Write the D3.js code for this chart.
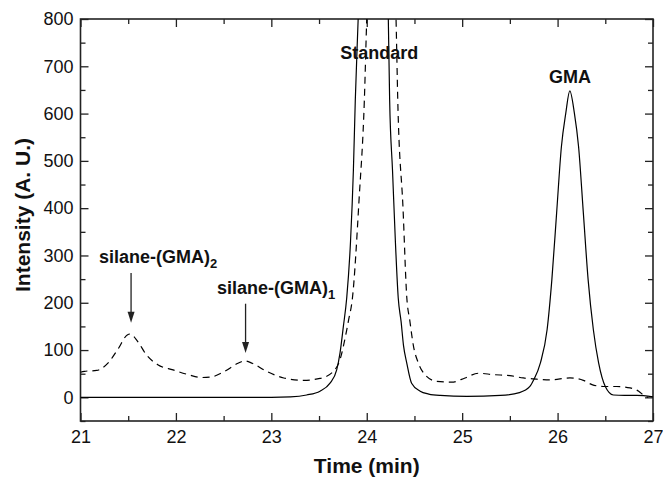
<!DOCTYPE html>
<html>
<head>
<meta charset="utf-8">
<script src="https://cdn.jsdelivr.net/npm/d3@7"></script>
<style>
  body { margin: 0; background: #fff; }
  svg { display: block; font-family: Arial, "Liberation Sans", sans-serif; }
</style>
</head>
<body>
<div id="chart"></div>
<script>
'use strict';

// Solid trace (sample with GMA).
const solidTime = [21.0, 21.5, 22.0, 22.5, 23.0, 23.2, 23.37, 23.51, 23.615, 23.685, 23.72, 23.755, 23.79, 23.83,
  23.86, 23.88, 23.91, 23.95, 24.07, 24.2, 24.226, 24.24, 24.27, 24.3, 24.33, 24.36, 24.385, 24.42, 24.47, 24.56,
  24.65, 24.77, 25.05, 25.4, 25.6, 25.71, 25.75, 25.82, 25.89, 25.94, 25.99, 26.04, 26.086, 26.128, 26.176, 26.22,
  26.27, 26.32, 26.375, 26.43, 26.5, 26.585, 26.7, 26.83, 27.0];
const solidValue = [0, 0, 0, 0, 0, 1, 5, 13, 30, 58, 94, 150, 210, 330,
  480, 629, 800, 1050, 1300, 1050, 800, 629, 480, 330, 210, 160, 110, 72, 30, 13,
  7, 4, 2, 4, 10, 23, 37, 73, 143, 249, 390, 530, 601, 648, 601, 530,
  390, 249, 143, 73, 23, 5, 4, 4, 1];

// Dashed trace.
const dashTime = [21.0, 21.04, 21.17, 21.29, 21.39, 21.49, 21.52, 21.6, 21.69, 21.81, 21.97, 22.13, 22.27, 22.37,
  22.51, 22.65, 22.72, 22.8, 22.95, 23.13, 23.34, 23.51, 23.65, 23.72, 23.77, 23.81, 23.85, 23.92, 23.975, 24.0,
  24.05, 24.15, 24.27, 24.307, 24.325, 24.38, 24.42, 24.45, 24.49, 24.54, 24.61, 24.73, 24.89, 25.03, 25.17, 25.33,
  25.5, 25.64, 25.75, 25.92, 26.13, 26.27, 26.36, 26.48, 26.62, 26.76, 26.85, 26.92, 26.95];
const dashValue = [53, 55, 57, 73, 101, 132, 134, 118, 90, 69, 58, 48, 42, 43,
  55, 72, 77, 72, 55, 41, 36, 40, 55, 80, 122, 164, 210, 420, 629, 800,
  1000, 1300, 1000, 800, 629, 400, 210, 164, 108, 73, 48, 34, 32, 41, 51, 48,
  46, 41, 39, 37, 41, 36, 27, 23, 23, 20, 13, 2, 0];

const xMajor = [21, 22, 23, 24, 25, 26, 27];
const xMinor = [21.5, 22.5, 23.5, 24.5, 25.5, 26.5];
const yMajor = [0, 100, 200, 300, 400, 500, 600, 700, 800];
const yMinor = [-50, 50, 150, 250, 350, 450, 550, 650, 750];

// Peak labels: text, subscript, time, intensity, anchor.
const labelText = ['silane-(GMA)', 'silane-(GMA)', 'Standard', 'GMA'];
const labelSub = ['2', '1', '', ''];
const labelTime = [21.195, 22.43, 24.13, 26.13];
const labelValue = [285, 219, 715, 665];
const labelAnchor = ['start', 'start', 'middle', 'middle'];

// Arrows: time, tail intensity, tip intensity.
const arrowTime = [21.53, 22.73];
const arrowFrom = [263, 198];
const arrowTo = [158, 94];

const width = 663;
const height = 478;
const margin = {top: 19, right: 10, bottom: 57, left: 80.5};
const w = width - margin.left - margin.right;
const h = height - margin.top - margin.bottom;

const x = d3.scaleLinear().domain([21, 27]).range([0, w]);
const y = d3.scaleLinear().domain([-50, 800]).range([h, 0]);

const $svg = d3.select('#chart').append('svg')
  .attr('width', width)
  .attr('height', height);

const $g = $svg.append('g')
  .attr('transform', `translate(${margin.left},${margin.top})`);

$svg.append('defs').append('clipPath')
  .attr('id', 'plot-clip')
  .append('rect')
  .attr('width', w)
  .attr('height', h);

const axisColor = '#222';

// Axes, ticks pointing inward on all four sides.
const addAxis = (axis, transform, labels) => {
  const $a = $g.append('g').attr('transform', transform).call(axis);
  $a.select('.domain').remove();
  $a.selectAll('line').attr('stroke', axisColor).attr('stroke-width', 1.3);
  if(labels) {
    $a.selectAll('text').attr('fill', '#111').style('font-size', '18px');
  } else {
    $a.selectAll('text').remove();
  }
  return $a;
};

addAxis(d3.axisBottom(x).tickValues(xMajor).tickSize(-8).tickPadding(9).tickFormat(d3.format('d')), `translate(0,${h})`, true);
addAxis(d3.axisBottom(x).tickValues(xMinor).tickSize(-5), `translate(0,${h})`, false);
addAxis(d3.axisTop(x).tickValues(xMajor).tickSize(-8), 'translate(0,0)', false);
addAxis(d3.axisTop(x).tickValues(xMinor).tickSize(-5), 'translate(0,0)', false);

addAxis(d3.axisLeft(y).tickValues(yMajor).tickSize(-8).tickPadding(7).tickFormat(d3.format('d')), 'translate(0,0)', true);
addAxis(d3.axisLeft(y).tickValues(yMinor).tickSize(-5), 'translate(0,0)', false);
addAxis(d3.axisRight(y).tickValues(yMajor).tickSize(-8), `translate(${w},0)`, false);
addAxis(d3.axisRight(y).tickValues(yMinor).tickSize(-5), `translate(${w},0)`, false);

// Frame.
$g.append('rect')
  .attr('width', w)
  .attr('height', h)
  .attr('fill', 'none')
  .attr('stroke', axisColor)
  .attr('stroke-width', 1.6);

// Traces.
const line = d3.line()
  .x(d => x(d[0]))
  .y(d => y(d[1]))
  .curve(d3.curveMonotoneX);

const $traces = $g.append('g').attr('clip-path', 'url(#plot-clip)');

$traces.append('path')
  .datum(d3.zip(dashTime, dashValue))
  .attr('d', line)
  .attr('fill', 'none')
  .attr('stroke', '#000')
  .attr('stroke-width', 1.2)
  .attr('stroke-dasharray', '7,5');

$traces.append('path')
  .datum(d3.zip(solidTime, solidValue))
  .attr('d', line)
  .attr('fill', 'none')
  .attr('stroke', '#000')
  .attr('stroke-width', 1.2);

// Arrows.
arrowTime.forEach((t, i) => {
  const ax = x(t);
  const y0 = y(arrowFrom[i]);
  const y1 = y(arrowTo[i]);
  $g.append('line')
    .attr('x1', ax).attr('x2', ax)
    .attr('y1', y0).attr('y2', y1 - 8)
    .attr('stroke', '#222')
    .attr('stroke-width', 1.3);
  $g.append('path')
    .attr('d', `M${ax - 3.5},${y1 - 11} L${ax + 3.5},${y1 - 11} L${ax},${y1} Z`)
    .attr('fill', '#222');
});

// Peak labels.
labelText.forEach((txt, i) => {
  const $t = $g.append('text')
    .attr('x', x(labelTime[i]))
    .attr('y', y(labelValue[i]))
    .attr('text-anchor', labelAnchor[i])
    .style('font-size', '18px')
    .style('font-weight', 'bold')
    .attr('fill', '#111')
    .text(txt);
  if(labelSub[i]) {
    $t.append('tspan')
      .attr('dy', 5)
      .style('font-size', '13px')
      .text(labelSub[i]);
  }
});

// Axis titles.
$svg.append('text')
  .attr('x', margin.left + w / 2)
  .attr('y', height - 5)
  .attr('text-anchor', 'middle')
  .style('font-size', '21px')
  .style('font-weight', 'bold')
  .attr('fill', '#111')
  .text('Time (min)');

$svg.append('text')
  .attr('transform', `translate(30,${margin.top + h / 2 - 5}) rotate(-90)`)
  .attr('text-anchor', 'middle')
  .style('font-size', '21px')
  .style('font-weight', 'bold')
  .attr('fill', '#111')
  .text('Intensity (A. U.)');
</script>
</body>
</html>
